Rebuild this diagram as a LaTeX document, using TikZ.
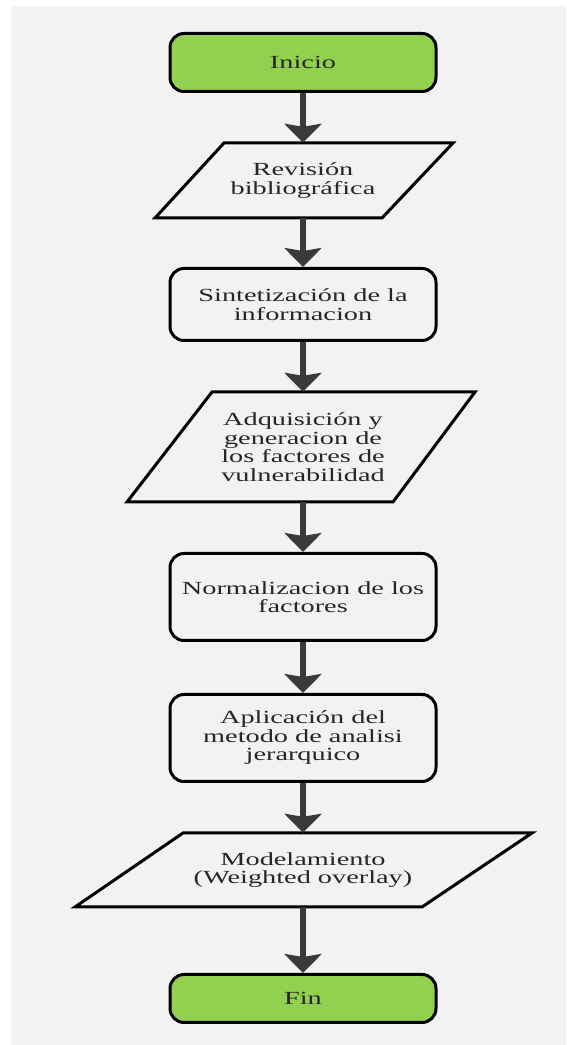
\documentclass[tikz,border=0pt]{standalone}
\usepackage{fontspec}
\setmainfont{Liberation Serif}[FakeStretch=1.53]
\usepackage{tikz}
\usetikzlibrary{
    positioning,
    arrows.meta,
    calc
}
\definecolor{startGreen}{RGB}{146, 208, 80}
\definecolor{paperGray}{RGB}{242, 242, 242}
\definecolor{flowGray}{RGB}{58, 58, 58}

\begin{document}
\begin{tikzpicture}[x=1pt, y=1pt,
    base/.style={font=\fontsize{18.5}{18.5}\selectfont, text=black!85, align=center, inner sep=0pt},
    startstop/.style={base, draw, line width=3pt, rounded corners=14pt, fill=startGreen, minimum width=266pt},
    procbox/.style={base, draw, line width=3pt, rounded corners=14pt, fill=paperGray, minimum width=266pt},
    iotext/.style={base},
    iobox/.style={draw, line width=3pt, fill=paperGray, line join=miter},
    flow/.style={draw=flowGray, line width=6pt, -{Stealth[width=37pt, length=19pt, inset=3pt]}}
]
            \useasboundingbox (0,0) rectangle (566,1045);
            \fill[paperGray] (11,0) rectangle (566,1039);

            % parallelograms
            \draw[iobox] (224,902)--(453,902)--(382,827)--(155,827)--cycle;
            \draw[iobox] (212,653)--(475,653)--(393,543)--(127,543)--cycle;
            \draw[iobox] (183,212)--(532,212)--(422,138)--(75,138)--cycle;

            % steps
            \node[startstop, minimum height=58pt] (inicio) at (303,982.5) {Inicio};
            \node[iotext, minimum height=75pt] (revision) at (303,864.5) {Revisión\\bibliográfica};
            \node[procbox, minimum height=72pt] (sintesis) at (303,740.5) {Sintetización de la\\informacion};
            \node[iotext, minimum height=110pt] (adquisicion) at (303,598) {Adquisición y\\generacion de\\los factores de\\vulnerabilidad};
            \node[procbox, minimum height=87pt] (normaliza) at (303,448) {Normalizacion de los\\factores};
            \node[procbox, minimum height=87pt] (jerarquia) at (303,307) {Aplicación del\\metodo de analisi\\jerarquico};
            \node[iotext, minimum height=74pt] (modelo) at (303,175) {Modelamiento\\(Weighted overlay)};
            \node[startstop, minimum height=48pt] (fin) at (303,46.5) {Fin};

            \draw[flow] (inicio) -- (revision);
            \draw[flow] (revision) -- (sintesis);
            \draw[flow] (sintesis) -- (adquisicion);
            \draw[flow] (adquisicion) -- (normaliza);
            \draw[flow] (normaliza) -- (jerarquia);
            \draw[flow] (jerarquia) -- (modelo);
            \draw[flow] (modelo) -- (fin);
        \end{tikzpicture}
\end{document}
